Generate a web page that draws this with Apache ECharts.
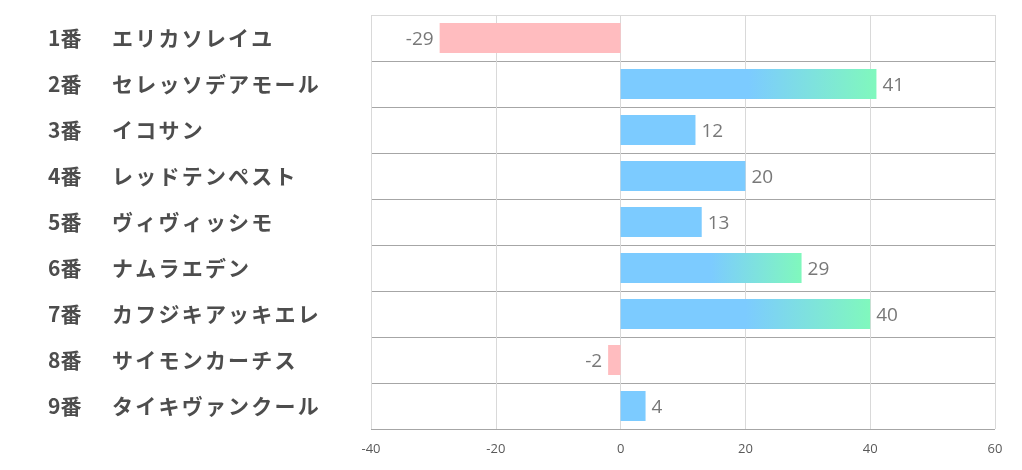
<!DOCTYPE html>
<html>
<head>
<meta charset="utf-8">
<script src="https://cdn.jsdelivr.net/npm/echarts@6/dist/echarts.min.js"></script>
<style>html,body{margin:0;padding:0;background:#fff}#c{width:1022px;height:470px}</style>
</head>
<body>
<div id="c"></div>
<script>
const numbers = ['1番','2番','3番','4番','5番','6番','7番','8番','9番'];
const names = ['エリカソレイユ','セレッソデアモール','イコサン','レッドテンペスト','ヴィヴィッシモ','ナムラエデン','カフジキアッキエレ','サイモンカーチス','タイキヴァンクール'];
const values = [-29, 41, 12, 20, 13, 29, 40, -2, 4];
const xTicks = [-40, -20, 0, 20, 40, 60];
const highlightMin = 29;

const BLUE = '#7ccbff', GREEN = '#80f8bd', PINK = '#ffbcbf';
const categories = numbers.map((n, i) => n + '\t' + names[i]);

const chart = echarts.init(document.getElementById('c'));
const data = values.map(v => {
  let color = v < 0 ? PINK : BLUE;
  if (v >= highlightMin) {
    color = new echarts.graphic.LinearGradient(0, 0, 1, 0, [
      {offset: 0, color: BLUE}, {offset: 0.5, color: BLUE}, {offset: 1, color: GREEN}
    ]);
  }
  return {
    value: v,
    itemStyle: {color},
    label: {position: v < 0 ? 'left' : 'right'}
  };
});

const labelFont = {fontSize: 21, fontWeight: 'bold', color: '#4d4d4d', fontFamily: 'Noto Sans CJK JP'};

chart.setOption({
  animation: false,
  grid: {left: 371, right: 27, top: 15, bottom: 41},
  xAxis: {
    type: 'value', min: xTicks[0], max: xTicks[xTicks.length - 1], interval: 20,
    axisLine: {show: false}, axisTick: {show: false},
    axisLabel: {color: '#595959', fontSize: 13, margin: 14, fontFamily: 'Open Sans'},
    splitLine: {show: true, lineStyle: {color: '#d9d9d9', width: 1}}
  },
  yAxis: {
    type: 'category', inverse: true, data: categories,
    axisLine: {show: false}, axisTick: {show: false},
    splitLine: {show: true, lineStyle: {color: ['#d9d9d9','#a6a6a6','#a6a6a6','#a6a6a6','#a6a6a6','#a6a6a6','#a6a6a6','#a6a6a6','#a6a6a6','#a6a6a6'], width: 1}},
    axisLabel: {
      align: 'left', margin: 323,
      formatter: (val) => {
        const [n, name] = val.split('\t');
        return '{n|' + n + '}' + Array.from(name).map(ch => '{c|' + ch + '}').join('');
      },
      rich: {
        n: Object.assign({width: 63}, labelFont),
        c: Object.assign({width: 23.2, align: 'center'}, labelFont)
      }
    }
  },
  series: [{
    type: 'bar', data, barWidth: 30,
    label: {show: true, color: '#787878', fontSize: 19, distance: 6, offset: [0, 2], fontFamily: 'Open Sans'}
  }]
});
</script>
</body>
</html>
